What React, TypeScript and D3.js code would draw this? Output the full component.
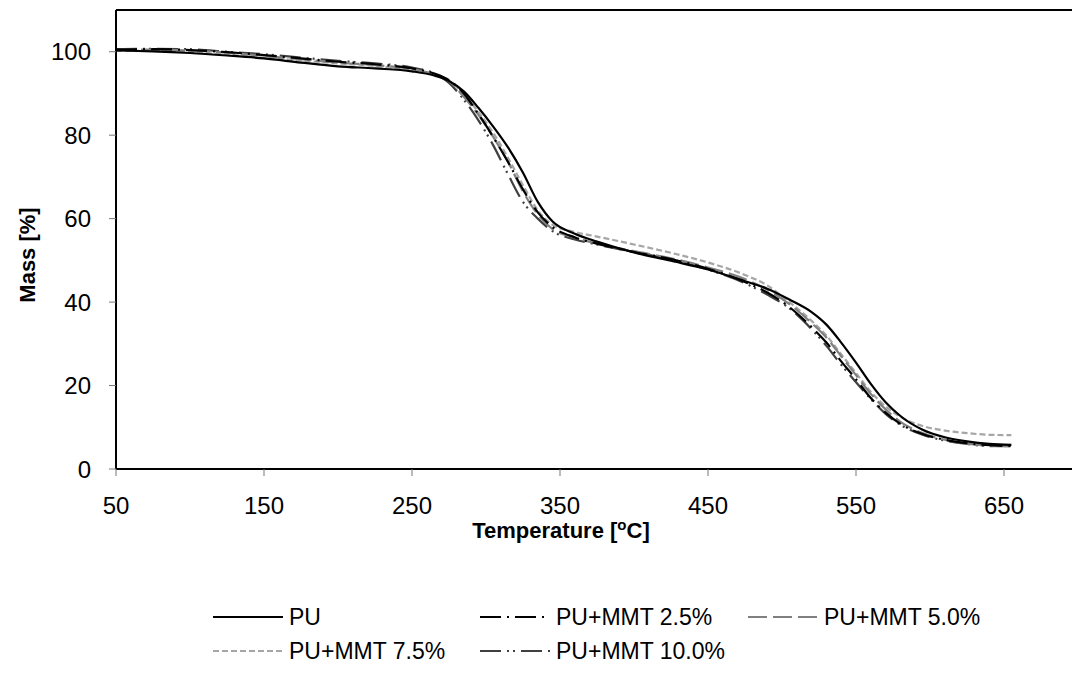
import React from "react";
import * as d3 from "d3";

// temperature grid (°C) shared by all series
const temps = [50, 75, 100, 125, 150, 175, 200, 225, 250, 265, 275, 285, 295, 305, 315, 325, 335, 345, 360, 375, 400, 425, 450, 475, 490, 505, 520, 530, 540, 550, 560, 570, 580, 595, 610, 625, 640, 655];

const pu = [100.3, 100.1, 99.7, 99.1, 98.4, 97.4, 96.5, 96.0, 95.3, 94.3, 93.0, 90.5, 86.5, 82.0, 77.0, 71.0, 64.0, 59.3, 56.4, 54.5, 51.9, 49.9, 47.8, 45.0, 43.2, 40.6, 37.6, 34.6, 30.3, 25.5, 20.4, 16.0, 12.7, 9.4, 7.6, 6.6, 6.0, 5.8];
const mmt25 = [100.5, 100.6, 100.4, 99.9, 99.2, 98.4, 97.6, 97.0, 96.0, 94.8, 93.2, 90.0, 85.0, 79.5, 73.5, 67.0, 61.5, 58.0, 55.5, 54.0, 52.0, 50.3, 48.0, 44.8, 42.3, 38.8, 34.0, 30.3, 25.8, 21.5, 17.0, 13.5, 10.8, 8.4, 7.0, 6.2, 5.7, 5.5];
const mmt50 = [100.4, 100.5, 100.3, 99.8, 99.0, 98.2, 97.4, 96.8, 95.8, 94.6, 93.0, 89.2, 84.8, 79.5, 73.5, 66.5, 61.0, 57.5, 55.5, 54.0, 52.2, 50.5, 48.3, 45.5, 43.0, 39.5, 35.0, 31.5, 27.0, 22.5, 18.0, 14.3, 11.3, 8.6, 7.0, 6.1, 5.6, 5.4];
const mmt75 = [100.2, 100.2, 99.9, 99.3, 98.6, 97.9, 97.2, 96.6, 95.6, 94.5, 93.0, 89.8, 85.5, 80.5, 74.5, 68.0, 62.0, 58.5, 56.8, 55.7, 53.8, 51.8, 49.5, 46.5, 44.0, 40.0, 35.5, 32.0, 27.5, 23.0, 18.5, 15.0, 12.5, 10.3, 9.2, 8.6, 8.2, 8.1];
const mmt100 = [100.6, 100.7, 100.6, 100.0, 99.4, 98.6, 97.8, 97.2, 96.2, 94.8, 92.5, 88.5, 83.5, 77.5, 70.5, 64.0, 60.0, 57.0, 55.0, 53.8, 52.0, 50.2, 47.8, 44.5, 41.8, 38.5, 33.5, 29.5, 25.0, 20.8, 16.8, 13.2, 10.6, 8.2, 6.8, 6.0, 5.5, 5.6];

const xTicks = [50, 150, 250, 350, 450, 550, 650];
const yTicks = [0, 20, 40, 60, 80, 100];

const series = [
  { name: "PU", values: pu, color: "#000000", dash: "" },
  { name: "PU+MMT 2.5%", values: mmt25, color: "#000000", dash: "21,6,2,6" },
  { name: "PU+MMT 5.0%", values: mmt50, color: "#808080", dash: "19,6" },
  { name: "PU+MMT 7.5%", values: mmt75, color: "#a6a6a6", dash: "6,3" },
  { name: "PU+MMT 10.0%", values: mmt100, color: "#404040", dash: "21,6,2,4,2,6" },
];

const font = "'Liberation Sans', Arial, sans-serif";

export default function App() {
  const left = 116, top = 10, bottom = 469;
  const x = d3.scaleLinear().domain([50, 700]).range([left, left + 650 * 1.48]);
  const y = d3.scaleLinear().domain([0, 110]).range([bottom, top]);

  const line = (vals: number[]) =>
    d3.line<number>()
      .x((_, i) => x(temps[i]))
      .y((d) => y(d))
      .curve(d3.curveMonotoneX)(vals) || "";

  // legend layout: [column x, row y]
  const legendPos = [[213, 617], [480, 617], [748, 617], [213, 651], [480, 651]];
  const drawOrder = [4, 3, 2, 1, 0];

  return (
    <svg width={1072} height={673} style={{ position: "absolute", left: 0, top: 0, background: "#fff" }} fontFamily={font}>
      <rect x={0} y={0} width={1072} height={673} fill="#fff" />

      {drawOrder.map((k) => (
        <path key={series[k].name} d={line(series[k].values)} fill="none"
          stroke={series[k].color} strokeWidth={2.2} strokeDasharray={series[k].dash} />
      ))}

      {/* frame */}
      <line x1={left} y1={top} x2={1080} y2={top} stroke="#000" strokeWidth={2} />
      <line x1={left} y1={top} x2={left} y2={bottom} stroke="#000" strokeWidth={2} />
      <line x1={left} y1={bottom} x2={1080} y2={bottom} stroke="#000" strokeWidth={2} />

      {yTicks.map((t) => (
        <g key={"y" + t}>
          <line x1={left - 7} x2={left} y1={y(t)} y2={y(t)} stroke="#777" strokeWidth={1} />
          <text x={91} y={y(t)} dy="0.36em" textAnchor="end" fontSize={24}>{t}</text>
        </g>
      ))}
      {xTicks.map((t) => (
        <g key={"x" + t}>
          <line x1={x(t)} x2={x(t)} y1={bottom} y2={bottom + 7} stroke="#777" strokeWidth={1} />
          <text x={x(t)} y={505} dy="0.36em" textAnchor="middle" fontSize={24}>{t}</text>
        </g>
      ))}

      <text transform={`translate(27,255) rotate(-90)`} textAnchor="middle" fontSize={22} fontWeight="bold" dy="0.36em">Mass [%]</text>
      <text x={561} y={530} textAnchor="middle" fontSize={22} fontWeight="bold" dy="0.36em">
        Temperature [<tspan fontSize={15} dy="-8">o</tspan><tspan dy="8">C]</tspan>
      </text>

      {series.map((s, i) => {
        const [lx, ly] = legendPos[i];
        return (
          <g key={"lg" + s.name}>
            <line x1={lx} x2={lx + 70} y1={ly} y2={ly} stroke={s.color} strokeWidth={2.2} strokeDasharray={s.dash} />
            <text x={lx + 76} y={ly} dy="0.36em" fontSize={23}>{s.name}</text>
          </g>
        );
      })}
    </svg>
  );
}
